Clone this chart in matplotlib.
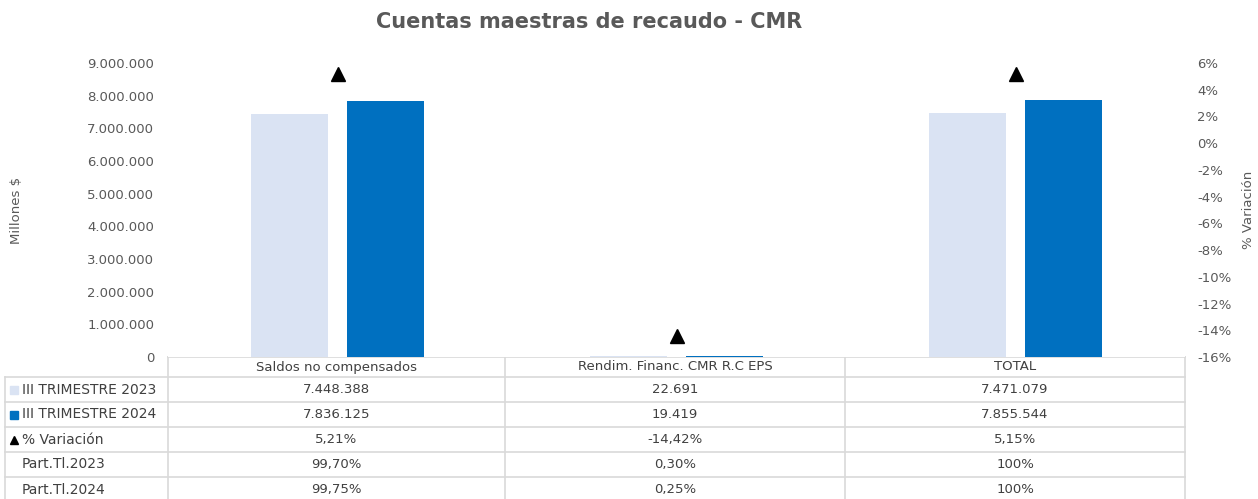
import numpy as np
import matplotlib.pyplot as plt
from matplotlib.ticker import FuncFormatter

# data
categorias = ['Saldos no compensados', 'Rendim. Financ. CMR R.C EPS', 'TOTAL']
trim_2023 = [7448388, 22691, 7471079]
trim_2024 = [7836125, 19419, 7855544]
variacion = [5.21, -14.42, 5.15]  # %
part_2023 = ['99,70%', '0,30%', '100%']
part_2024 = ['99,75%', '0,25%', '100%']

c_light = '#DAE3F3'
c_dark = '#0070C0'
c_text = '#595959'
c_grid = '#D9D9D9'

W, H = 1258, 499
fig = plt.figure(figsize=(W / 100, H / 100), dpi=100)

# plot area in pixels
x0, x1, y_top, y_zero = 168, 1185, 63, 357
ax = fig.add_axes([x0 / W, 1 - y_zero / H, (x1 - x0) / W, (y_zero - y_top) / H])
x = np.arange(len(categorias))
ax.bar(x - 0.142, trim_2023, width=0.229, color=c_light)
ax.bar(x + 0.142, trim_2024, width=0.229, color=c_dark)
ax.set_xlim(-0.5, 2.5)
ax.set_ylim(0, 9000000)
ax.set_yticks(np.arange(0, 9000001, 1000000))
ax.yaxis.set_major_formatter(FuncFormatter(lambda v, p: f'{int(v):,}'.replace(',', '.')))
ax.set_xticks([])
ax.tick_params(axis='y', length=0, pad=10, labelsize=9.5, labelcolor=c_text)
for s in ax.spines.values():
    s.set_visible(False)

ax2 = ax.twinx()
ax2.plot(x, variacion, '^', color='black', markersize=10, linestyle='none')
ax2.set_ylim(-16, 6)
ax2.set_yticks(np.arange(-16, 7, 2))
ax2.yaxis.set_major_formatter(FuncFormatter(lambda v, p: f'{int(v)}%'))
ax2.tick_params(axis='y', length=0, pad=9, labelsize=9.5, labelcolor=c_text)
for s in ax2.spines.values():
    s.set_visible(False)

fig.text(589 / W, 1 - 22 / H, 'Cuentas maestras de recaudo - CMR', ha='center', va='center',
         fontsize=15, fontweight='bold', color=c_text)
fig.text(17 / W, 1 - 210 / H, 'Millones $', rotation=90, ha='center', va='center',
         fontsize=9.5, color=c_text)
fig.text(1248 / W, 1 - 210 / H, '% Variación', rotation=90, ha='center', va='center',
         fontsize=9.5, color=c_text)

# data table below the chart, in pixel coordinates
tab = fig.add_axes([0, 0, 1, 1], zorder=-1)
tab.set_xlim(0, W)
tab.set_ylim(H, 0)
tab.axis('off')

col_edges = [x0, 505, 845, x1]
row_edges = [357, 377, 402, 427, 452, 477, 502]
lw = 1.2
tab.plot([x0, x1], [row_edges[0]] * 2, color=c_grid, lw=lw)
for ye in row_edges[1:]:
    tab.plot([5, x1], [ye, ye], color=c_grid, lw=lw)
for xe in col_edges:
    tab.plot([xe, xe], [row_edges[0], row_edges[-1]], color=c_grid, lw=lw)
tab.plot([5, 5], [row_edges[1], row_edges[-1]], color=c_grid, lw=lw)

fmt = lambda v: f'{v:,}'.replace(',', '.')
pct = lambda v: f'{v:.2f}%'.replace('.', ',')
filas = [
    ('III TRIMESTRE 2023', [fmt(v) for v in trim_2023]),
    ('III TRIMESTRE 2024', [fmt(v) for v in trim_2024]),
    ('% Variación', [pct(v) for v in variacion]),
    ('Part.Tl.2023', part_2023),
    ('Part.Tl.2024', part_2024),
]
c_tab = '#404040'
for j, cat in enumerate(categorias):
    xc = (col_edges[j] + col_edges[j + 1]) / 2
    tab.text(xc, (row_edges[0] + row_edges[1]) / 2, cat, ha='center', va='center',
             fontsize=9.5, color=c_tab)
for i, (nombre, vals) in enumerate(filas):
    yc = (row_edges[i + 1] + row_edges[i + 2]) / 2
    tab.text(22, yc, nombre, ha='left', va='center', fontsize=10, color=c_tab)
    for j, val in enumerate(vals):
        xc = (col_edges[j] + col_edges[j + 1]) / 2
        tab.text(xc, yc, val, ha='center', va='center', fontsize=9.5, color=c_tab)

# legend keys inside the table
tab.plot(14, (row_edges[1] + row_edges[2]) / 2, 's', color=c_light, markersize=6)
tab.plot(14, (row_edges[2] + row_edges[3]) / 2, 's', color=c_dark, markersize=6)
tab.plot(14, (row_edges[3] + row_edges[4]) / 2, '^', color='black', markersize=6)

fig.savefig('out.png', dpi=100)
